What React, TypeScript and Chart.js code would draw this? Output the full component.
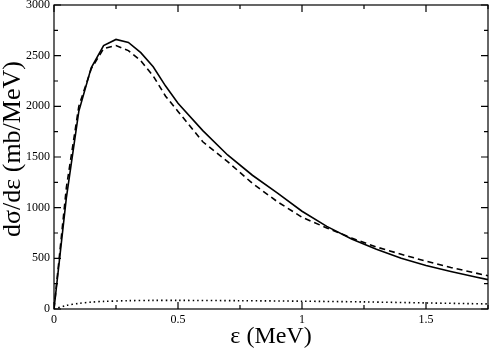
import React, { useEffect, useRef } from "react";
import { Chart, registerables } from "chart.js";

Chart.register(...registerables);

const solidX = [0, 0.05, 0.1, 0.15, 0.2, 0.25, 0.3, 0.35, 0.4, 0.45, 0.5, 0.6, 0.7, 0.8, 0.9, 1.0, 1.1, 1.2, 1.3, 1.4, 1.5, 1.6, 1.7, 1.75];
const solidY = [0, 1100, 1950, 2380, 2600, 2660, 2630, 2530, 2390, 2200, 2030, 1760, 1520, 1320, 1145, 965, 815, 690, 590, 500, 430, 370, 315, 290];

const dashedX = [0, 0.05, 0.1, 0.15, 0.2, 0.25, 0.3, 0.35, 0.4, 0.45, 0.5, 0.6, 0.7, 0.8, 0.9, 1.0, 1.1, 1.2, 1.3, 1.4, 1.5, 1.6, 1.7, 1.75];
const dashedY = [0, 1200, 2000, 2370, 2570, 2600, 2550, 2450, 2300, 2100, 1950, 1650, 1455, 1240, 1060, 905, 800, 700, 612, 540, 472, 410, 355, 328];

const dottedX = [0, 0.05, 0.1, 0.15, 0.2, 0.3, 0.4, 0.5, 0.75, 1.0, 1.25, 1.5, 1.75];
const dottedY = [0, 35, 55, 68, 75, 82, 85, 85, 82, 77, 70, 60, 50];

const xTickLabels = ["0", "0.5", "1", "1.5"];
const yTickLabels = ["0", "500", "1000", "1500", "2000", "2500", "3000"];
const yTitle = "dσ/dε (mb/MeV)";

const pts = (xs: number[], ys: number[]) => xs.map((x, i) => ({ x, y: ys[i] }));

const framePlugin = {
  id: "frameTicks",
  afterDraw(chart: any) {
    const { ctx, chartArea } = chart;
    const { left, right, top, bottom } = chartArea;
    const xs = chart.scales.x;
    const ys = chart.scales.y;
    ctx.save();
    ctx.strokeStyle = "#000";
    ctx.lineWidth = 1.2;
    ctx.strokeRect(left, top, right - left, bottom - top);
    ctx.beginPath();
    xs.ticks.forEach((t: any) => {
      const px = xs.getPixelForValue(t.value);
      const major = Math.abs(t.value / 0.5 - Math.round(t.value / 0.5)) < 1e-6;
      const len = major ? 7 : 4;
      ctx.moveTo(px, bottom);
      ctx.lineTo(px, bottom - len);
      ctx.moveTo(px, top);
      ctx.lineTo(px, top + len);
    });
    ys.ticks.forEach((t: any) => {
      const py = ys.getPixelForValue(t.value);
      const major = t.value % 500 === 0;
      const len = major ? 7 : 4;
      ctx.moveTo(left, py);
      ctx.lineTo(left + len, py);
      ctx.moveTo(right, py);
      ctx.lineTo(right - len, py);
    });
    ctx.stroke();
    ctx.translate(13, (top + bottom) / 2 - 8);
    ctx.rotate(-Math.PI / 2);
    ctx.fillStyle = "#000";
    ctx.font = "26px 'Liberation Serif'";
    ctx.textAlign = "center";
    ctx.textBaseline = "middle";
    ctx.fillText(yTitle, 0, 0);
    ctx.restore();
  },
};

export default function App() {
  const ref = useRef<HTMLCanvasElement | null>(null);
  useEffect(() => {
    document.body.style.margin = "0";
    const canvas = ref.current!;
    const chart = new Chart(canvas, {
      type: "scatter",
      data: {
        datasets: [
          {
            data: pts(solidX, solidY),
            showLine: true,
            borderColor: "#000",
            borderWidth: 1.6,
            pointRadius: 0,
            tension: 0,
          },
          {
            data: pts(dashedX, dashedY),
            showLine: true,
            borderColor: "#000",
            borderWidth: 1.6,
            borderDash: [6, 4],
            pointRadius: 0,
            tension: 0,
          },
          {
            data: pts(dottedX, dottedY),
            showLine: true,
            borderColor: "#000",
            borderWidth: 1.6,
            borderDash: [1.5, 3],
            pointRadius: 0,
            tension: 0.3,
          },
        ],
      },
      options: {
        responsive: false,
        animation: false,
        events: [],
        layout: { padding: { top: 5, right: 3, left: 0, bottom: 0 } },
        plugins: { legend: { display: false }, tooltip: { enabled: false } },
        scales: {
          x: {
            type: "linear",
            min: 0,
            max: 1.75,
            grid: { display: false, drawTicks: false, tickLength: 0 },
            border: { display: false },
            ticks: {
              stepSize: 0.25,
              autoSkip: false,
              maxRotation: 0,
              padding: 4,
              color: "#000",
              font: { family: "Liberation Serif", size: 12 },
              callback: (v: any) => {
                const n = Number(v);
                const i = Math.round(n / 0.5);
                return Math.abs(n - i * 0.5) < 1e-6 ? xTickLabels[i] ?? "" : "";
              },
            },
            title: {
              display: true,
              text: "ε (MeV)",
              color: "#000",
              font: { family: "Liberation Serif", size: 24, lineHeight: 1 },
              padding: { top: 0, bottom: 0 },
            },
            afterFit: (s: any) => {
              s.height = 40;
              s.paddingLeft = 0;
              s.paddingRight = 0;
            },
          },
          y: {
            type: "linear",
            min: 0,
            max: 3000,
            grid: { display: false, drawTicks: false, tickLength: 0 },
            border: { display: false },
            ticks: {
              stepSize: 250,
              autoSkip: false,
              padding: 4,
              color: "#000",
              font: { family: "Liberation Serif", size: 12 },
              callback: (v: any) => {
                const n = Number(v);
                return n % 500 === 0 ? yTickLabels[n / 500] ?? "" : "";
              },
            },
            title: { display: false },
            afterFit: (s: any) => {
              s.width = 54;
              s.paddingTop = 0;
              s.paddingBottom = 0;
            },
          },
        },
      },
      plugins: [framePlugin],
    });
    return () => chart.destroy();
  }, []);
  return (
    <div style={{ position: "absolute", left: 0, top: 0, width: 491, height: 349, background: "#fff" }}>
      <canvas ref={ref} width={491} height={349} style={{ display: "block" }} />
    </div>
  );
}
